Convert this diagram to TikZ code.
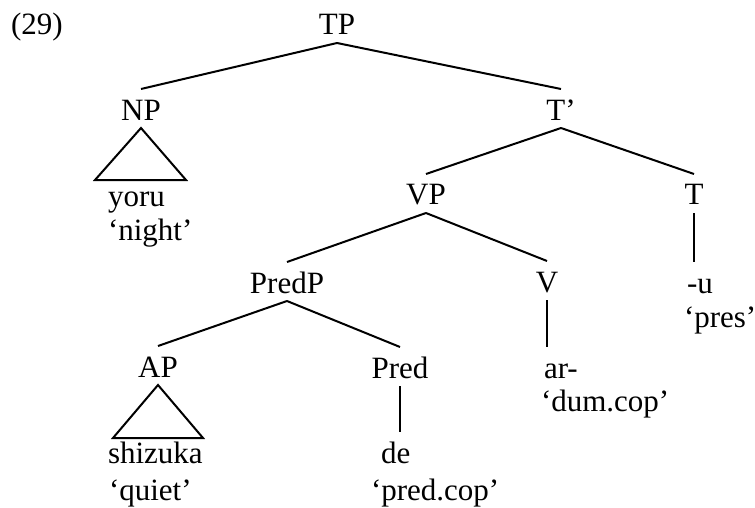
\documentclass[tikz,border=0pt]{standalone}
\usepackage{fontspec}
\setmainfont{Liberation Serif}
\usepackage{tikz}

\begin{document}
\begin{tikzpicture}[x=0.5pt, y=-0.5pt, line width=1pt,
      cat/.style={inner sep=0pt, text height=15pt, text depth=3.5pt,
        font=\fontsize{15.5}{18}\selectfont, anchor=base},
      leaf/.style={cat, anchor=base west}
      ]
      \useasboundingbox (0,0) rectangle (755,508);
      \node[leaf] (num) at (10,35) {(29)};
      \node[cat] (tp) at (337,35) {TP};
      \node[cat] (np) at (141,120) {NP};
      \node[cat] (tbar) at (561,120) {T'};
      \node[cat] (vp) at (426,205) {VP};
      \node[cat] (t) at (694,205) {T};
      \node[cat] (predp) at (287,293) {PredP};
      \node[cat] (v) at (547,292) {V};
      \node[cat] (ap) at (158,377) {AP};
      \node[cat] (pred) at (400,378) {Pred};

      \node[leaf] (yoru) at (107,206) {yoru};
      \node[leaf] (night) at (107,240) {`night'};
      \node[leaf] (u) at (686,293) {-u};
      \node[leaf] (pres) at (683,327) {`pres'};
      \node[leaf] (ar) at (543,378) {ar-};
      \node[leaf] (dumcop) at (540,411) {`dum.cop'};
      \node[leaf] (shizuka) at (107,463) {shizuka};
      \node[leaf] (quiet) at (108,500) {`quiet'};
      \node[leaf] (de) at (380,463) {de};
      \node[leaf] (predcop) at (370,500) {`pred.cop'};

      \draw (tp.south) -- (np.north);
      \draw (tp.south) -- (tbar.north);
      \draw (tbar.south) -- (vp.north);
      \draw (tbar.south) -- (t.north);
      \draw (vp.south) -- (predp.north);
      \draw (vp.south) -- (v.north);
      \draw (predp.south) -- (ap.north);
      \draw (predp.south) -- (pred.north);
      \draw (t.south) -- (t.south |- u.north);
      \draw (v.south) -- (v.south |- ar.north);
      \draw (pred.south) -- (pred.south |- de.north);
      \draw (np.south) -- ++(-46,52) -- ++(91,0) -- cycle;
      \draw (ap.south) -- ++(-45,53) -- ++(90,0) -- cycle;
    \end{tikzpicture}
\end{document}
